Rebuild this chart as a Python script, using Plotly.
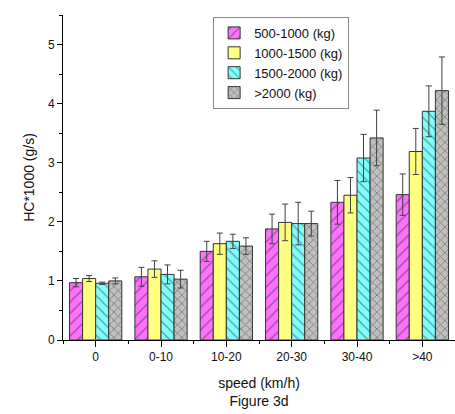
import plotly.graph_objects as go

# Speed bins and vehicle-mass classes
categories = ["0", "0-10", "10-20", "20-30", "30-40", ">40"]
series_names = ["500-1000 (kg)", "1000-1500 (kg)", "1500-2000 (kg)", ">2000 (kg)"]

# Mean HC emission rate (x1000 g/s) per speed bin
hc_500_1000 = [0.97, 1.07, 1.50, 1.88, 2.33, 2.46]
hc_1000_1500 = [1.04, 1.20, 1.63, 1.99, 2.45, 3.19]
hc_1500_2000 = [0.96, 1.11, 1.67, 1.97, 3.08, 3.87]
hc_over_2000 = [1.00, 1.03, 1.59, 1.97, 3.42, 4.22]

# Standard deviations (error bars)
err_500_1000 = [0.07, 0.16, 0.17, 0.25, 0.37, 0.35]
err_1000_1500 = [0.05, 0.14, 0.18, 0.31, 0.30, 0.39]
err_1500_2000 = [0.02, 0.16, 0.12, 0.36, 0.40, 0.43]
err_over_2000 = [0.05, 0.15, 0.14, 0.21, 0.47, 0.57]

values = [hc_500_1000, hc_1000_1500, hc_1500_2000, hc_over_2000]
errors = [err_500_1000, err_1000_1500, err_1500_2000, err_over_2000]
colors = ["#FF70FF", "#FFFF80", "#80FFFF", "#C0C0C0"]
patterns = ["/", "", "\\", "x"]
pattern_sizes = [8, 8, 7, 6]
pattern_solidity = [0.18, 0.1, 0.18, 0.25]

x_pos = list(range(len(categories)))

fig = go.Figure()
for name, vals, errs, col, pat, psz, sol in zip(series_names, values, errors, colors,
                                                patterns, pattern_sizes, pattern_solidity):
    fig.add_trace(go.Bar(
        x=x_pos,
        y=vals,
        name=name,
        marker=dict(
            color=col,
            line=dict(color="#333333", width=1),
            pattern=dict(shape=pat, fgcolor="#333333", size=psz, solidity=sol,
                         fillmode="overlay"),
        ),
        error_y=dict(type="data", array=errs, visible=True,
                     color="#404040", thickness=1, width=3),
    ))

font_family = "Liberation Sans, Arial, sans-serif"

fig.update_layout(
    width=455,
    height=414,
    margin=dict(l=63, r=0, t=15, b=74),
    barmode="group",
    bargap=0.2,
    bargroupgap=0,
    plot_bgcolor="white",
    paper_bgcolor="white",
    font=dict(family=font_family, size=12, color="#111111"),
    legend=dict(
        x=0.383, y=0.994, xanchor="left", yanchor="top",
        bgcolor="white", bordercolor="#888888", borderwidth=1,
        font=dict(size=13, family=font_family),
        tracegroupgap=0,
    ),
    xaxis=dict(
        range=[-0.5, 5.5],
        tickmode="array",
        tickvals=x_pos,
        ticktext=categories,
        ticks="outside",
        ticklen=6,
        tickcolor="black",
        showline=True,
        linecolor="black",
        linewidth=1,
        showgrid=False,
        zeroline=False,
        minor=dict(tick0=0.5, dtick=1, ticks="outside", ticklen=3,
                   tickcolor="black", showgrid=False),
        tickfont=dict(size=12),
        title=dict(text="speed (km/h)<br>Figure 3d", font=dict(size=14), standoff=14),
    ),
    yaxis=dict(
        range=[0, 5.5],
        dtick=1,
        ticks="outside",
        ticklen=5,
        tickcolor="black",
        showline=True,
        linecolor="black",
        linewidth=1,
        showgrid=False,
        zeroline=False,
        minor=dict(dtick=0.5, ticks="outside", ticklen=3, tickcolor="black",
                   showgrid=False),
        tickfont=dict(size=12),
        title=dict(text="HC*1000 (g/s)", font=dict(size=14), standoff=10),
    ),
)

fig.write_html("out.html")
